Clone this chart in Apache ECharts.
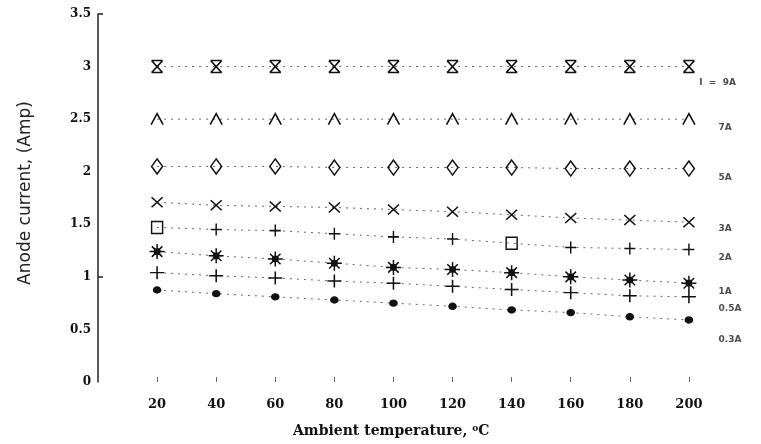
<!DOCTYPE html>
<html>
<head>
<meta charset="utf-8">
<script src="https://cdn.jsdelivr.net/npm/echarts@6/dist/echarts.min.js"></script>
<style>
  html, body { margin: 0; padding: 0; background: #fff; }
  #chart { width: 761px; height: 444px; }
</style>
</head>
<body>
<div id="chart"></div>
<script>
// ambient temperature, deg C
var temps = [20, 40, 60, 80, 100, 120, 140, 160, 180, 200];

// anode current (A) for each grid current curve
var cur9A  = [3.0, 3.0, 3.0, 3.0, 3.0, 3.0, 3.0, 3.0, 3.0, 3.0];
var cur7A  = [2.5, 2.5, 2.5, 2.5, 2.5, 2.5, 2.5, 2.5, 2.5, 2.5];
var cur5A  = [2.05, 2.05, 2.05, 2.04, 2.04, 2.04, 2.04, 2.03, 2.03, 2.03];
var cur3A  = [1.71, 1.68, 1.67, 1.66, 1.64, 1.62, 1.59, 1.56, 1.54, 1.52];
var cur2A  = [1.47, 1.45, 1.44, 1.41, 1.38, 1.36, 1.32, 1.28, 1.27, 1.26];
var cur1A  = [1.24, 1.20, 1.17, 1.13, 1.09, 1.07, 1.04, 1.00, 0.97, 0.94];
var cur05A = [1.04, 1.01, 0.99, 0.96, 0.94, 0.91, 0.88, 0.85, 0.82, 0.81];
var cur03A = [0.875, 0.84, 0.81, 0.78, 0.75, 0.72, 0.685, 0.66, 0.62, 0.59];

// curve labels on the right: text, temperature, current
var curveNames = ['I  =  9A', '7A', '5A', '3A', '2A', '1A', '0.5A', '0.3A'];
var nameTemps  = [203.5, 210, 210, 210, 210, 210, 210, 210];
var nameCurs   = [2.85, 2.42, 1.94, 1.46, 1.18, 0.86, 0.70, 0.40];

var yTicks = [0, 0.5, 1, 1.5, 2, 2.5, 3, 3.5];

var P_XBAR  = 'path://M0,0 L10,0 M0,12 L10,12 M0,0 L10,12 M10,0 L0,12';
var P_X     = 'path://M0,0 L10,10 M10,0 L0,10';
var P_CARET = 'path://M0,10 L5,0 L10,10';
var P_PLUS  = 'path://M5,0 L5,10 M0,5 L10,5';
var P_STAR  = 'path://M5,0 L5,10 M0,5 L10,5 M1.5,1.5 L8.5,8.5 M8.5,1.5 L1.5,8.5 M3.3,3.3 L6.7,3.3 L6.7,6.7 L3.3,6.7 Z';
var P_SQ    = 'path://M0,0 L10,0 L10,10 L0,10 Z';

function pairs(vals) {
    var out = [];
    for (var i = 0; i < temps.length; i++) {
        out.push([temps[i], vals[i]]);
    }
    return out;
}

function curve(name, vals, symbol, size, fill) {
    return {
        name: name,
        type: 'line',
        data: pairs(vals),
        symbol: symbol,
        symbolSize: size,
        showAllSymbol: true,
        lineStyle: { color: '#666', width: 1, type: [2, 5] },
        itemStyle: {
            color: fill ? '#111' : 'rgba(0,0,0,0)',
            borderColor: '#111',
            borderWidth: 1.5
        },
        emphasis: { disabled: true },
        z: 3
    };
}

var labelData = [];
for (var k = 0; k < curveNames.length; k++) {
    labelData.push({ name: curveNames[k], value: [nameTemps[k], nameCurs[k]] });
}

var series = [
    curve('9A', cur9A, P_XBAR, [11, 12], false),
    curve('7A', cur7A, P_CARET, [12, 11], false),
    curve('5A', cur5A, 'diamond', [11, 15], false),
    curve('3A', cur3A, P_X, [11, 10], false),
    curve('2A', cur2A, function (v, params) {
        return (params.dataIndex === 0 || params.dataIndex === 6) ? P_SQ : P_PLUS;
    }, [11, 12], false),
    curve('1A', cur1A, P_STAR, [15, 15], true),
    curve('0.5A', cur05A, P_PLUS, [14, 13], false),
    curve('0.3A', cur03A, 'circle', [7, 6], true),
    {
        type: 'scatter',
        data: labelData,
        symbolSize: 0,
        silent: true,
        label: {
            show: true,
            position: 'inside',
            align: 'left',
            verticalAlign: 'middle',
            formatter: '{b}',
            color: '#222',
            fontFamily: 'DejaVu Sans',
            fontWeight: 'bold',
            fontSize: 9
        }
    }
];

var option = {
    animation: false,
    backgroundColor: '#fff',
    grid: { left: 98, right: 13, top: 14, bottom: 62, outerBoundsMode: 'none' },
    title: {
        text: 'Ambient temperature, {s|o}C',
        left: 293,
        top: 424,
        padding: 0,
        textStyle: {
            fontFamily: 'DejaVu Serif',
            fontWeight: 'bold',
            fontSize: 14,
            color: '#111',
            rich: {
                s: { fontSize: 9, fontWeight: 'bold', verticalAlign: 'top', color: '#111', padding: [0, 0, 6, 0] }
            }
        }
    },
    xAxis: {
        type: 'value',
        min: 0,
        max: 220,
        interval: 20,
        axisLine: { show: false },
        splitLine: { show: false },
        axisTick: {
            show: true,
            inside: true,
            length: 5,
            customValues: temps,
            lineStyle: { color: '#666', width: 1 }
        },
        axisLabel: {
            margin: 16,
            customValues: temps,
            fontFamily: 'DejaVu Serif',
            fontWeight: 'bold',
            fontSize: 13,
            color: '#111'
        }
    },
    yAxis: {
        type: 'value',
        min: 0,
        max: 3.5,
        interval: 0.5,
        name: 'Anode current, (Amp)',
        nameLocation: 'middle',
        nameGap: 64,
        nameTextStyle: {
            fontFamily: 'DejaVu Sans',
            fontSize: 17,
            color: '#222',
            padding: [0, 0, 0, 10]
        },
        axisLine: { show: true, lineStyle: { color: '#222', width: 1.5 } },
        splitLine: { show: false },
        axisTick: {
            show: true,
            inside: true,
            length: 5,
            customValues: [1, 3.5],
            lineStyle: { color: '#222', width: 1.5 }
        },
        axisLabel: {
            margin: 7,
            customValues: yTicks,
            fontFamily: 'DejaVu Serif',
            fontWeight: 'bold',
            fontSize: 12,
            color: '#111'
        }
    },
    series: series
};

var myChart = echarts.init(document.getElementById('chart'));
myChart.setOption(option);
</script>
</body>
</html>
